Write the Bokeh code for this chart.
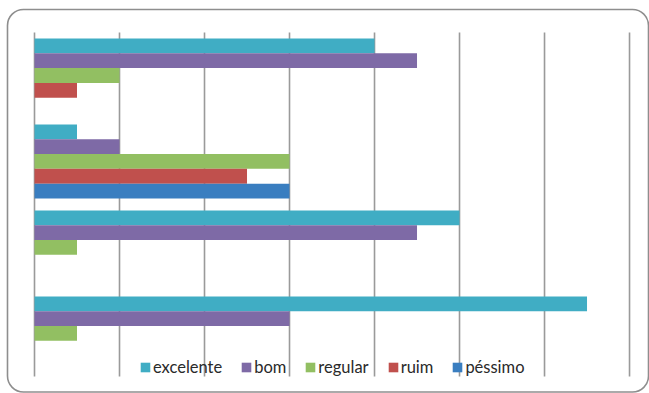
import numpy as np
from bokeh.plotting import figure
from bokeh.models import Range1d, ColumnDataSource, BoxAnnotation
from bokeh.embed import file_html
from bokeh.resources import INLINE

groups = ["1", "2", "3", "4"]
series = ["excelente", "bom", "regular", "ruim", "péssimo"]
excelente = [8, 1, 10, 13]
bom = [9, 2, 9, 6]
regular = [2, 6, 1, 1]
ruim = [1, 5, 0, 0]
pessimo = [0, 6, 0, 0]
values = [excelente, bom, regular, ruim, pessimo]
colors = ["#40ADC4", "#7E6AA6", "#92BF62", "#C0504D", "#3A7EC0"]
x_ticks = [0, 2, 4, 6, 8, 10, 12, 14]

# layout geometry (bar slots)
gap = 0.81
pitch = len(series) + gap
g_idx = np.arange(len(groups))
area_top = 0.5 + gap / 2
area_bottom = -(len(groups) * pitch) + 0.5 + gap / 2

p = figure(width=649, height=393, output_backend="svg", toolbar_location=None,
           x_axis_location=None, y_axis_location=None,
           x_range=Range1d(-0.8, 14.47), y_range=Range1d(-23.49, 3.068))
p.min_border_left = 0
p.min_border_right = 0
p.min_border_top = 0
p.min_border_bottom = 0
p.outline_line_color = None
p.background_fill_color = "white"
p.border_fill_color = "white"
p.xgrid.visible = False
p.ygrid.visible = False

# vertical gridlines over the plot area
p.segment(x0=x_ticks, x1=x_ticks, y0=[area_bottom] * len(x_ticks), y1=[area_top] * len(x_ticks),
          line_color="#9A9A9A", line_width=1.6)

for s_i, (s, vals, c) in enumerate(zip(series, values, colors)):
    src = ColumnDataSource(dict(y=-(g_idx * pitch + s_i), v=vals))
    p.hbar(y="y", right="v", left=0, height=1.0, source=src, fill_color=c,
           line_color=None, legend_label=s)

leg = p.legend[0]
leg.orientation = "horizontal"
leg.location = (139, 16)
leg.background_fill_alpha = 0
leg.border_line_alpha = 0
leg.padding = 0
leg.margin = 0
leg.spacing = 18
leg.label_standoff = 2
leg.glyph_width = 12
leg.glyph_height = 12
leg.label_height = 14
leg.label_text_font = "Lato"
leg.label_text_font_size = "16.5px"
leg.label_text_color = "#2A2A2A"

border = BoxAnnotation(left=7, right=648, bottom=1.5, top=384,
                       left_units="screen", right_units="screen",
                       bottom_units="screen", top_units="screen",
                       fill_alpha=0, line_color="#8E8E8E", line_alpha=1.0,
                       line_width=1.6, border_radius=16)
p.add_layout(border)

open("out.html", "w").write(file_html(p, INLINE))
